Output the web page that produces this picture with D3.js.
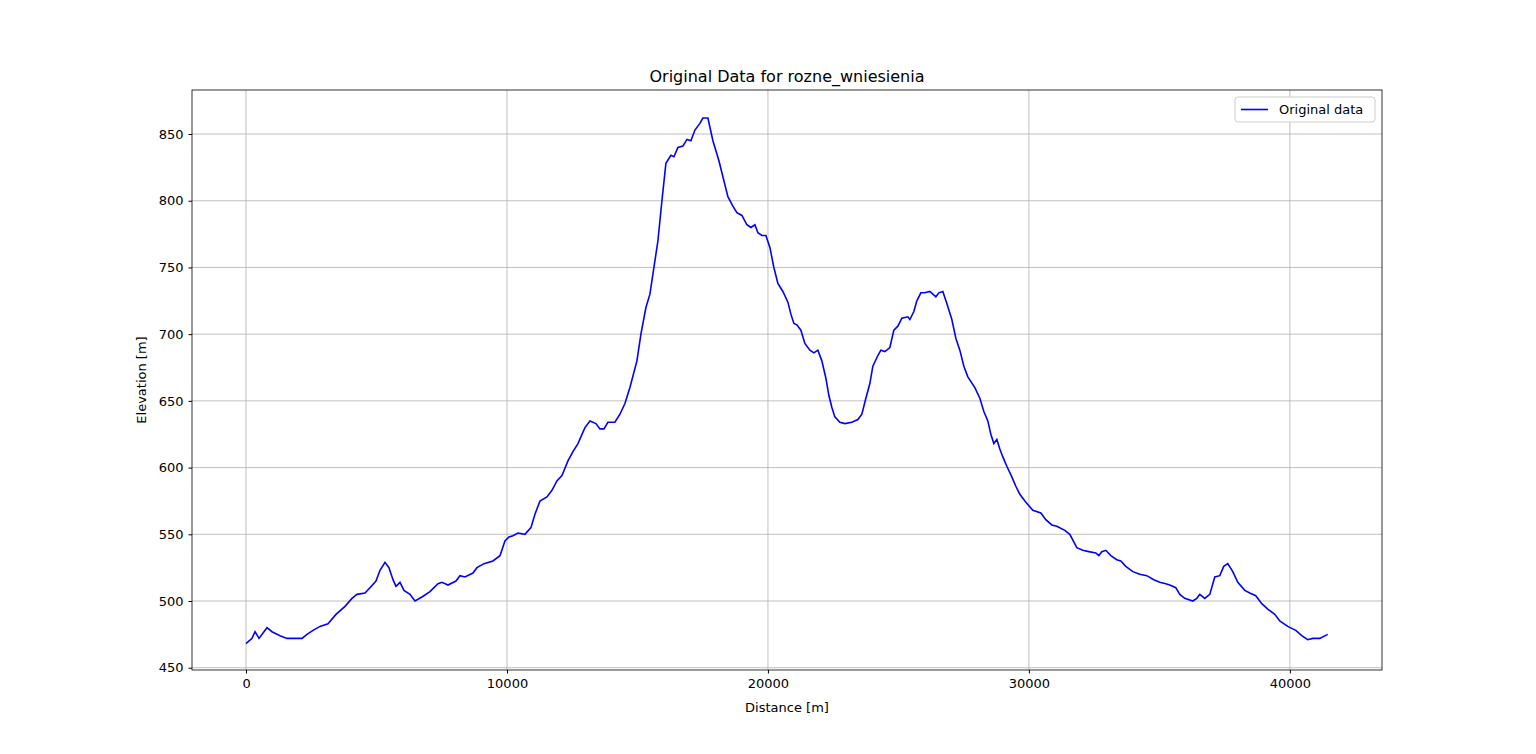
<!DOCTYPE html>
<html><head><meta charset="utf-8">
<script src="https://cdn.jsdelivr.net/npm/d3@7"></script>
<style>body{margin:0;background:#fff}text{font-family:"DejaVu Sans",sans-serif}</style>
</head><body>
<svg width="1536" height="754"></svg>
<script>
const distance = [0,230,345,498,651,805,996,1303,1571,1954,2145,2337,2567,2835,3141,3448,3793,4061,4252,4559,4750,4980,5134,5325,5478,5632,5747,5900,6053,6283,6474,6743,7049,7356,7509,7739,8045,8198,8390,8696,8850,9118,9463,9731,9922,10076,10229,10420,10688,10918,11072,11263,11531,11723,11914,12106,12336,12527,12719,12987,13179,13409,13562,13715,13868,14136,14328,14519,14711,14979,15132,15324,15477,15592,15784,15937,16090,16282,16397,16550,16741,16895,17048,17201,17393,17508,17699,17891,18121,18312,18465,18657,18810,19002,19193,19347,19500,19615,19768,19921,20074,20227,20381,20572,20764,20879,20994,21109,21262,21415,21607,21760,21913,22066,22220,22335,22450,22564,22756,22948,23216,23446,23599,23752,23905,24020,24212,24327,24480,24672,24825,24978,25131,25361,25438,25591,25706,25859,26012,26204,26434,26549,26702,26855,27047,27200,27353,27507,27660,27928,28120,28273,28426,28541,28656,28771,28886,29001,29154,29345,29499,29652,29882,30150,30456,30648,30878,31069,31376,31567,31836,32065,32295,32564,32678,32793,32947,33138,33368,33521,33713,33981,34249,34517,34785,35015,35245,35398,35628,35782,35973,36280,36433,36548,36739,36931,37122,37314,37467,37620,37812,38004,38272,38463,38693,38923,39153,39421,39613,39919,40226,40455,40685,40877,41144,41451];
const elevation = [468,472,477,472,476,480,477,474,472,472,472,475,478,481,483,490,496,502,505,506,510,515,523,529,525,516,511,514,508,505,500,503,507,513,514,512,515,519,518,521,525,528,530,534,545,548,549,551,550,555,565,575,578,583,590,594,605,612,618,630,635,633,629,629,634,634,640,648,660,680,700,720,730,745,770,800,828,834,833,840,841,846,845,853,858,862,862,845,830,815,803,796,791,789,782,780,782,776,774,774,765,750,738,732,724,715,708,707,703,693,688,686,688,680,667,654,645,638,634,633,634,636,640,652,663,676,684,688,687,690,703,706,712,713,711,717,725,731,731,732,728,731,732,723,711,697,688,676,668,660,652,642,635,625,618,621,614,608,601,593,586,580,574,568,566,561,557,556,553,550,540,538,537,536,534,537,538,534,531,530,526,522,520,519,516,514,513,512,510,505,502,500,502,505,502,505,518,519,526,528,522,514,508,506,504,498,494,490,485,481,478,474,471,472,472,475];
const xTicks = [0,10000,20000,30000,40000];
const yTicks = [450,500,550,600,650,700,750,800,850];

const svg = d3.select("svg");
const L = 192, R = 1382, T = 90, B = 670;
const x = d3.scaleLinear().domain([-2070, 43530]).range([L, R]);
const y = d3.scaleLinear().domain([448.3, 883]).range([B, T]);

// grid
svg.append("g").selectAll("line").data(xTicks).join("line")
  .attr("x1", d => x(d)).attr("x2", d => x(d)).attr("y1", T).attr("y2", B)
  .attr("stroke", "#b0b0b0").attr("stroke-width", 0.8);
svg.append("g").selectAll("line").data(yTicks).join("line")
  .attr("y1", d => y(d)).attr("y2", d => y(d)).attr("x1", L).attr("x2", R)
  .attr("stroke", "#b0b0b0").attr("stroke-width", 0.8);

const xa = svg.append("g").attr("transform", `translate(0,${B})`)
  .call(d3.axisBottom(x).tickValues(xTicks).tickFormat(d3.format("d")).tickSizeInner(3.5).tickSizeOuter(0).tickPadding(5));
const ya = svg.append("g").attr("transform", `translate(${L},0)`)
  .call(d3.axisLeft(y).tickValues(yTicks).tickSizeInner(3.5).tickSizeOuter(0).tickPadding(5));
[xa, ya].forEach(a => { a.select(".domain").remove(); a.selectAll("text").attr("font-size", 13).attr("fill", "#000"); a.selectAll("line").attr("stroke", "#000"); });

svg.append("path").datum(distance.map((d, i) => [d, elevation[i]]))
  .attr("fill", "none").attr("stroke", "blue").attr("stroke-width", 1.6)
  .attr("d", d3.line().x(d => x(d[0])).y(d => y(d[1])));

svg.append("rect").attr("x", L).attr("y", T).attr("width", R - L).attr("height", B - T)
  .attr("fill", "none").attr("stroke", "#000").attr("stroke-width", 0.8);

svg.append("text").attr("x", (L + R) / 2).attr("y", 82).attr("text-anchor", "middle").attr("font-size", 16).text("Original Data for rozne_wniesienia");
svg.append("text").attr("x", (L + R) / 2).attr("y", 712).attr("text-anchor", "middle").attr("font-size", 13).text("Distance [m]");
svg.append("text").attr("transform", `translate(146,${(T + B) / 2}) rotate(-90)`).attr("text-anchor", "middle").attr("font-size", 13).text("Elevation [m]");

// legend
const lg = svg.append("g").attr("transform", "translate(1235,97)");
lg.append("rect").attr("width", 140).attr("height", 25).attr("rx", 3).attr("fill", "#fff").attr("stroke", "#ccc");
lg.append("line").attr("x1", 6).attr("x2", 33).attr("y1", 12.5).attr("y2", 12.5).attr("stroke", "blue").attr("stroke-width", 1.6);
lg.append("text").attr("x", 44).attr("y", 17).attr("font-size", 13).text("Original data");
</script>
</body></html>
